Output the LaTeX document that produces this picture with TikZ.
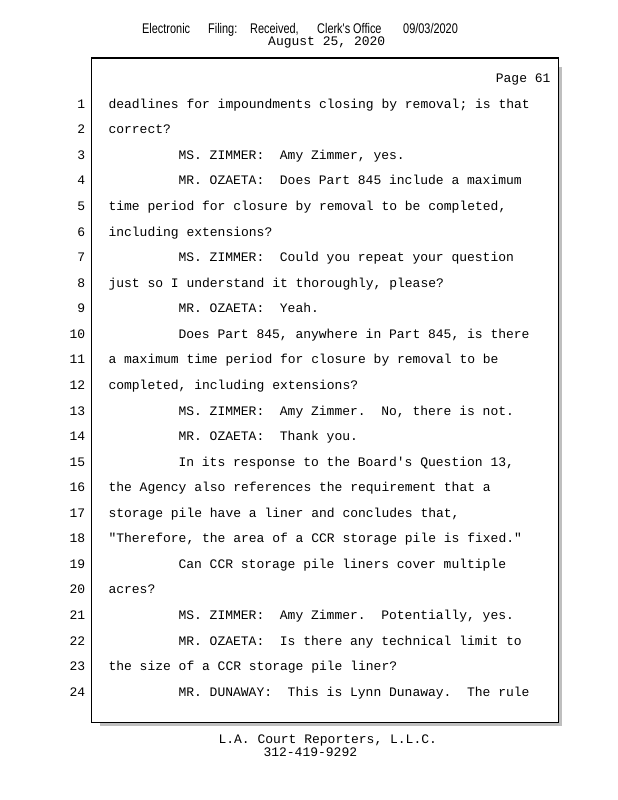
\documentclass[tikz,border=0pt]{standalone}
\usepackage{fontspec}
\usepackage{tikz}
\usetikzlibrary{positioning}
\newfontfamily\mono{Liberation Mono}
\newfontfamily\hdrfont{Liberation Sans}[FakeStretch=0.78]
\frenchspacing

\begin{document}
\begin{tikzpicture}[x=1pt, y=-1pt,
    txt/.style={font=\fontsize{13}{15}\mono, inner sep=0pt, anchor=base west},
    lnum/.style={txt, anchor=base east},
    body/.style={txt, xshift=22.8pt},
    indent/.style={txt, xshift=92.8pt},
    hdr/.style={font=\fontsize{14}{16}\hdrfont, inner sep=0pt, anchor=base west}]
    \useasboundingbox (0,0) rectangle (618,800);

    % header
    \node[hdr] (h1) at (142,33.3) {Electronic};
    \node[hdr] (h2) at (208,33.3) {Filing:};
    \node[hdr] (h3) at (250,33.3) {Received,};
    \node[hdr] (h4) at (317,33.3) {Clerk's};
    \node[hdr] (h5) at (353,33.3) {Office};
    \node[hdr] (h6) at (403,33.3) {09/03/2020};
    \node[txt] (date) at (268,46) {August 25, 2020};

    % page frame with shadow
    \fill[black!25] (100,67) rectangle (562.3,725.7);
    \draw[line width=1.2pt, fill=white] (91.7,58) rectangle (558.3,722.7);
    \node[txt, anchor=base east] (page) at (550.7,82.7) {Page 61};

    \foreach \n in {1,...,24}
        \node[lnum] (n\n) at (85.5,{108.3+(\n-1)*25.56}) {\n};

    \node[body] (t1) at (n1.base east) {deadlines for impoundments closing by removal; is that};
    \node[body] (t2) at (n2.base east) {correct?};
    \node[indent] (t3) at (n3.base east) {MS. ZIMMER:~ Amy Zimmer, yes.};
    \node[indent] (t4) at (n4.base east) {MR. OZAETA:~ Does Part 845 include a maximum};
    \node[body] (t5) at (n5.base east) {time period for closure by removal to be completed,};
    \node[body] (t6) at (n6.base east) {including extensions?};
    \node[indent] (t7) at (n7.base east) {MS. ZIMMER:~ Could you repeat your question};
    \node[body] (t8) at (n8.base east) {just so I understand it thoroughly, please?};
    \node[indent] (t9) at (n9.base east) {MR. OZAETA:~ Yeah.};
    \node[indent] (t10) at (n10.base east) {Does Part 845, anywhere in Part 845, is there};
    \node[body] (t11) at (n11.base east) {a maximum time period for closure by removal to be};
    \node[body] (t12) at (n12.base east) {completed, including extensions?};
    \node[indent] (t13) at (n13.base east) {MS. ZIMMER:~ Amy Zimmer.~ No, there is not.};
    \node[indent] (t14) at (n14.base east) {MR. OZAETA:~ Thank you.};
    \node[indent] (t15) at (n15.base east) {In its response to the Board's Question 13,};
    \node[body] (t16) at (n16.base east) {the Agency also references the requirement that a};
    \node[body] (t17) at (n17.base east) {storage pile have a liner and concludes that,};
    \node[body] (t18) at (n18.base east) {"Therefore, the area of a CCR storage pile is fixed."};
    \node[indent] (t19) at (n19.base east) {Can CCR storage pile liners cover multiple};
    \node[body] (t20) at (n20.base east) {acres?};
    \node[indent] (t21) at (n21.base east) {MS. ZIMMER:~ Amy Zimmer.~ Potentially, yes.};
    \node[indent] (t22) at (n22.base east) {MR. OZAETA:~ Is there any technical limit to};
    \node[body] (t23) at (n23.base east) {the size of a CCR storage pile liner?};
    \node[indent] (t24) at (n24.base east) {MR. DUNAWAY:~ This is Lynn Dunaway.~ The rule};

    % footer
    \node[txt] (f1) at (218.3,743.3) {L.A. Court Reporters, L.L.C.};
    \node[txt] (f2) at (263.3,756.7) {312-419-9292};
\end{tikzpicture}
\end{document}
